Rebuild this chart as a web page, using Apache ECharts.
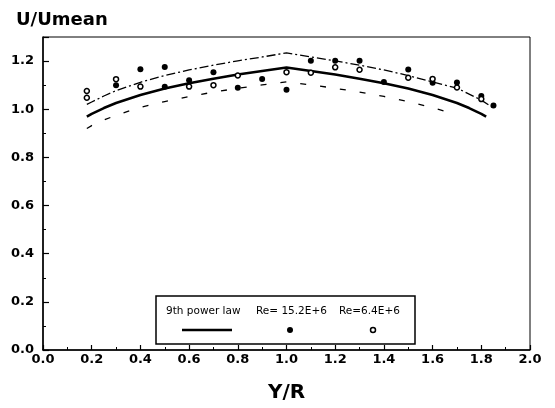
<!DOCTYPE html>
<html>
<head>
<meta charset="utf-8">
<script src="https://cdn.jsdelivr.net/npm/echarts@6/dist/echarts.min.js"></script>
<style>
html,body{margin:0;padding:0;background:#fff;}
#chart{width:555px;height:408px;}
</style>
</head>
<body>
<div id="chart"></div>
<script>
// Curve positions (Y/R)
var curveX = [0.18, 0.2, 0.25, 0.3, 0.4, 0.5, 0.6, 0.7, 0.8, 0.9, 1.0, 1.1, 1.2, 1.3, 1.4, 1.5, 1.6, 1.7, 1.75, 1.8, 1.82];
// 9th power law (solid)
var powerLaw = [0.969, 0.981, 1.005, 1.026, 1.059, 1.086, 1.108, 1.127, 1.144, 1.159, 1.173, 1.159, 1.144, 1.127, 1.108, 1.086, 1.059, 1.026, 1.005, 0.981, 0.969];
// upper band (dash-dot)
var upperX = [0.18, 0.2, 0.25, 0.3, 0.4, 0.5, 0.6, 0.7, 0.8, 0.9, 1.0, 1.1, 1.2, 1.3, 1.4, 1.5, 1.6, 1.7, 1.8, 1.85];
var upperBand = [1.020, 1.030, 1.055, 1.077, 1.112, 1.140, 1.163, 1.183, 1.201, 1.217, 1.234, 1.217, 1.201, 1.183, 1.163, 1.140, 1.113, 1.088, 1.038, 1.005];
// lower band (dashed)
var lowerX = [0.18, 0.2, 0.25, 0.3, 0.4, 0.5, 0.6, 0.7, 0.8, 0.9, 1.0, 1.1, 1.2, 1.3, 1.4, 1.5, 1.6, 1.7];
var lowerBand = [0.920, 0.932, 0.955, 0.975, 1.008, 1.032, 1.053, 1.071, 1.087, 1.101, 1.114, 1.101, 1.087, 1.071, 1.053, 1.032, 1.006, 0.978];
// Re = 15.2E+6 (filled dots)
var hiReX = [0.3, 0.4, 0.5, 0.5, 0.6, 0.7, 0.8, 0.9, 1.0, 1.1, 1.2, 1.3, 1.4, 1.5, 1.6, 1.7, 1.8, 1.85];
var hiReY = [1.100, 1.166, 1.175, 1.093, 1.120, 1.154, 1.089, 1.126, 1.081, 1.201, 1.201, 1.201, 1.113, 1.165, 1.110, 1.111, 1.055, 1.015];
// Re = 6.4E+6 (open circles)
var loReX = [0.18, 0.18, 0.3, 0.4, 0.6, 0.7, 0.8, 1.0, 1.1, 1.2, 1.3, 1.5, 1.6, 1.7, 1.8];
var loReY = [1.076, 1.048, 1.125, 1.094, 1.094, 1.100, 1.140, 1.154, 1.152, 1.174, 1.164, 1.131, 1.126, 1.090, 1.042];
// axis ticks
var xTicks = [0.0, 0.2, 0.4, 0.6, 0.8, 1.0, 1.2, 1.4, 1.6, 1.8, 2.0];
var yTicks = [0.0, 0.2, 0.4, 0.6, 0.8, 1.0, 1.2];
// legend texts
var legendNames = ['9th power law', 'Re= 15.2E+6', 'Re=6.4E+6'];

function zip(xs, ys) { return xs.map(function (x, i) { return [x, ys[i]]; }); }

var FONT = 'DejaVu Sans';
var chart = echarts.init(document.getElementById('chart'));
chart.setOption({
  backgroundColor: '#fff',
  animation: false,
  title: {
    text: 'U/Umean', left: 11, top: 6,
    textStyle: { fontFamily: FONT, fontWeight: 'bold', fontSize: 18, color: '#000' }
  },
  grid: { left: 43, right: 25, top: 37, bottom: 51, show: true, borderColor: '#000', borderWidth: 1 },
  xAxis: {
    type: 'value', min: 0, max: 2, interval: 0.2,
    name: 'Y/R', nameLocation: 'middle', nameGap: 33,
    nameTextStyle: { fontFamily: FONT, fontWeight: 'bold', fontSize: 20, color: '#000' },
    axisLine: { show: true, lineStyle: { color: '#000', width: 1.5 } },
    axisTick: { show: true, inside: true, length: 5, lineStyle: { color: '#000', width: 1.2 } },
    minorTick: { show: true, splitNumber: 2, length: 3, lineStyle: { color: '#000' } },
    splitLine: { show: false },
    axisLabel: {
      margin: 3, color: '#000', fontFamily: FONT, fontWeight: 'bold', fontSize: 13,
      formatter: function (v) { return xTicks.indexOf(Math.round(v * 10) / 10) >= 0 ? v.toFixed(1) : ''; }
    }
  },
  yAxis: {
    type: 'value', min: 0, max: 1.3, interval: 0.2,
    axisLine: { show: true, lineStyle: { color: '#000', width: 1.5 } },
    axisTick: { show: true, inside: true, length: 6, lineStyle: { color: '#000', width: 1.2 } },
    minorTick: { show: true, splitNumber: 2, length: 3, lineStyle: { color: '#000' } },
    splitLine: { show: false },
    axisLabel: {
      margin: 9, color: '#000', fontFamily: FONT, fontWeight: 'bold', fontSize: 13, showMaxLabel: false,
      formatter: function (v) { return yTicks.indexOf(Math.round(v * 10) / 10) >= 0 && v < 1.25 ? v.toFixed(1) : ''; }
    }
  },
  series: [
    {
      name: legendNames[0], type: 'line', data: zip(curveX, powerLaw), showSymbol: false,
      lineStyle: { color: '#000', width: 2.5 }, z: 3
    },
    {
      name: 'upper', type: 'line', data: zip(upperX, upperBand), showSymbol: false,
      lineStyle: { color: '#000', width: 1.3, type: [9, 3, 2, 3] }, z: 2
    },
    {
      name: 'lower', type: 'line', data: zip(lowerX, lowerBand), showSymbol: false,
      lineStyle: { color: '#000', width: 1.3, type: [6, 14] }, z: 2
    },
    {
      name: legendNames[1], type: 'scatter', data: zip(hiReX, hiReY), symbol: 'circle', symbolSize: 6,
      itemStyle: { color: '#000', opacity: 1 }, z: 4
    },
    {
      name: legendNames[2], type: 'scatter', data: zip(loReX, loReY), symbol: 'circle', symbolSize: 5,
      itemStyle: { color: '#fff', borderColor: '#000', borderWidth: 1.5, opacity: 1 }, z: 4
    }
  ],
  graphic: [
    { type: 'rect', shape: { x: 156, y: 296, width: 259, height: 48 }, style: { fill: '#fff', stroke: '#000', lineWidth: 1.5 }, z: 10 },
    { type: 'text', x: 166, y: 311, style: { text: legendNames[0], fontFamily: FONT, fontSize: 10.5, fill: '#000', textVerticalAlign: 'middle' }, z: 11 },
    { type: 'text', x: 256, y: 311, style: { text: legendNames[1], fontFamily: FONT, fontSize: 10.5, fill: '#000', textVerticalAlign: 'middle' }, z: 11 },
    { type: 'text', x: 339, y: 311, style: { text: legendNames[2], fontFamily: FONT, fontSize: 10.5, fill: '#000', textVerticalAlign: 'middle' }, z: 11 },
    { type: 'line', shape: { x1: 182, y1: 330, x2: 232, y2: 330 }, style: { stroke: '#000', lineWidth: 2.5 }, z: 11 },
    { type: 'circle', shape: { cx: 290, cy: 330, r: 3 }, style: { fill: '#000' }, z: 11 },
    { type: 'circle', shape: { cx: 373, cy: 330, r: 2.5 }, style: { fill: '#fff', stroke: '#000', lineWidth: 1.5 }, z: 11 }
  ]
});
</script>
</body>
</html>
